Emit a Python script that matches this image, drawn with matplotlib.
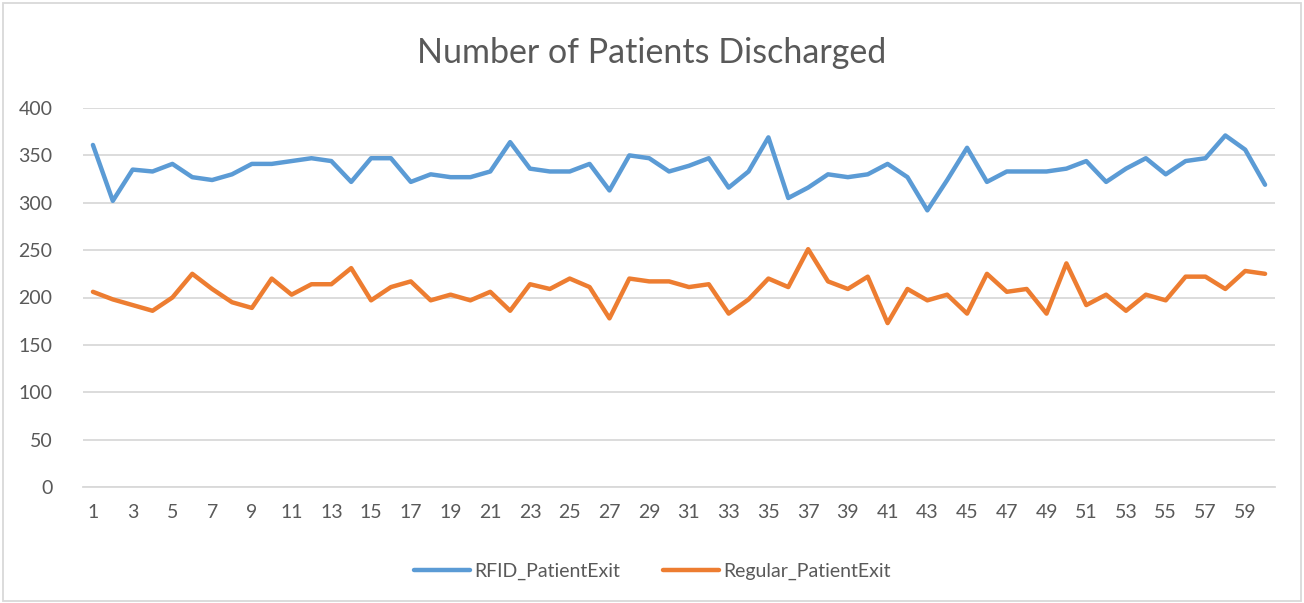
import numpy as np
import matplotlib.pyplot as plt
from matplotlib.patches import Rectangle

plt.rcParams['font.family'] = ['Lato', 'DejaVu Sans']

days = np.arange(1, 61)
rfid_exit = [361, 302, 335, 333, 341, 327, 324, 330, 341, 341,
             344, 347, 344, 322, 347, 347, 322, 330, 327, 327,
             333, 364, 336, 333, 333, 341, 313, 350, 347, 333,
             339, 347, 316, 333, 369, 305, 316, 330, 327, 330,
             341, 327, 292, 324, 358, 322, 333, 333, 333, 336,
             344, 322, 336, 347, 330, 344, 347, 371, 356, 319]
regular_exit = [206, 198, 192, 186, 200, 225, 209, 195, 189, 220,
                203, 214, 214, 231, 197, 211, 217, 197, 203, 197,
                206, 186, 214, 209, 220, 211, 178, 220, 217, 217,
                211, 214, 183, 198, 220, 211, 251, 217, 209, 222,
                173, 209, 197, 203, 183, 225, 206, 209, 183, 236,
                192, 203, 186, 203, 197, 222, 222, 209, 228, 225]
y_ticks = [0, 50, 100, 150, 200, 250, 300, 350, 400]

text_color = "#595959"
grid_color = "#d9d9d9"

fig = plt.figure(figsize=(13.04, 6.03), dpi=100)
ax = fig.add_axes([83/1304, 1 - 487/603, (1275 - 83)/1304, (487 - 108)/603])

ax.plot(days, rfid_exit, color="#5B9BD5", lw=3.2, label="RFID_PatientExit",
        solid_joinstyle='round', solid_capstyle='round')
ax.plot(days, regular_exit, color="#ED7D31", lw=3.2, label="Regular_PatientExit",
        solid_joinstyle='round', solid_capstyle='round')

ax.set_xlim(0.5, 60.5)
ax.set_ylim(0, 400)
ax.set_yticks(y_ticks)
ax.set_xticks(days[::2])
ax.tick_params(axis='both', length=0, labelsize=14, labelcolor=text_color)
ax.tick_params(axis='x', pad=12)
ax.tick_params(axis='y', pad=22)
ax.grid(axis='y', color=grid_color, lw=1.3)
ax.set_axisbelow(True)
for s in ['top', 'right', 'left']:
    ax.spines[s].set_visible(False)
ax.spines['bottom'].set_color(grid_color)
ax.spines['bottom'].set_linewidth(1.3)

fig.text(0.5, 1 - 53/603, "Number of Patients Discharged", ha='center', va='center',
         fontsize=24.5, color=text_color)

leg = fig.legend(loc='center', bbox_to_anchor=(0.5, 1 - 571/603), ncol=2, frameon=False,
                 fontsize=14, handlelength=2.9, columnspacing=2.2, handletextpad=0.2)
for t in leg.get_texts():
    t.set_color(text_color)

fig.patches.append(Rectangle((3/1304, 2/603), 1298/1304, 598/603, transform=fig.transFigure,
                             fill=False, edgecolor=grid_color, lw=1.3))

fig.savefig("out.png", dpi=100)
